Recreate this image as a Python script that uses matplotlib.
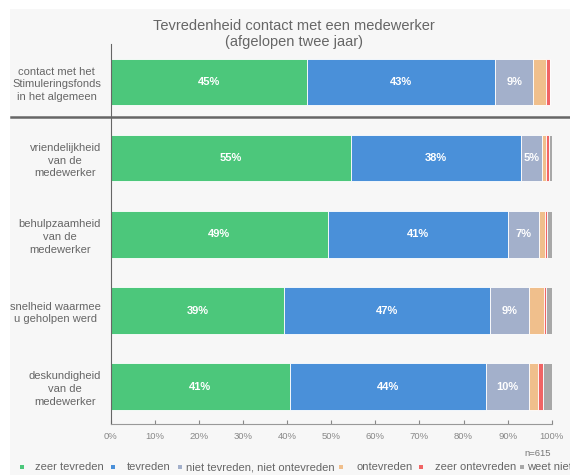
import numpy as np
import matplotlib
matplotlib.use('Agg')
import matplotlib.pyplot as plt
from matplotlib.patches import Rectangle

plt.rcParams['font.family'] = ['Liberation Sans', 'DejaVu Sans']

categories = ['contact met het\nStimuleringsfonds\nin het algemeen',
              'vriendelijkheid\nvan de\nmedewerker',
              'behulpzaamheid\nvan de\nmedewerker',
              'snelheid waarmee\nu geholpen werd',
              'deskundigheid\nvan de\nmedewerker']

series_names = ['zeer tevreden', 'tevreden', 'niet tevreden, niet ontevreden',
                'ontevreden', 'zeer ontevreden', 'weet niet']

zeer_tevreden = [44.6, 54.6, 49.3, 39.3, 40.6]
tevreden = [42.6, 38.4, 40.7, 46.7, 44.4]
neutraal = [8.6, 4.8, 7.1, 8.9, 9.9]
ontevreden = [3.0, 1.0, 1.3, 3.4, 2.0]
zeer_ontevreden = [0.9, 0.6, 0.6, 0.5, 1.2]
weet_niet = [0.0, 0.6, 1.0, 1.2, 1.9]

x_ticks = [0, 10, 20, 30, 40, 50, 60, 70, 80, 90, 100]
n_text = 'n=615'

colors = ['#4cc77b', '#4a90d9', '#a3b0cb', '#f0bf8c', '#f06464', '#a8a8a8']

fig = plt.figure(figsize=(5.7, 4.75), dpi=100, facecolor='white')
fig.add_artist(Rectangle((10 / 570, 0), 1, 466 / 475, transform=fig.transFigure,
                         facecolor='#f7f7f7', edgecolor='none', zorder=-10))

ax = fig.add_axes([110.7 / 570, 51 / 475, 441 / 570, 380 / 475])
ax.set_facecolor('none')

data = [zeer_tevreden, tevreden, neutraal, ontevreden, zeer_ontevreden, weet_niet]
y = np.arange(len(categories))
left = np.zeros(len(categories))
for vals, col in zip(data, colors):
    vals = np.array(vals)
    ax.barh(y, vals, left=left, height=0.61, color=col,
            edgecolor='white', linewidth=0.6)
    for yi, v, l in zip(y, vals, left):
        if v >= 4.5:
            ax.text(l + v / 2, yi, f'{int(round(v))}%', ha='center', va='center',
                    color='white', fontsize=8, fontweight='bold')
    left += vals

ax.set_xlim(0, 100)
ax.set_ylim(4.49, -0.5)
ax.set_yticks(y)
ax.set_yticklabels(categories, fontsize=8, color='#666666', multialignment='center')
for lab in ax.get_yticklabels():
    lab.set_linespacing(1.35)
ax.tick_params(axis='y', length=0, pad=7)
ax.set_xticks(x_ticks)
ax.set_xticklabels([f'{t}%' for t in x_ticks], fontsize=6.8, color='#888888')
ax.tick_params(axis='x', direction='in', length=3, color='#888888', pad=6)

ax.spines['top'].set_visible(False)
ax.spines['right'].set_visible(False)
ax.spines['left'].set_color('#666666')
ax.spines['bottom'].set_color('#999999')

# separator between the overall row and the detail rows
ax.axhline(0.46, xmin=-100 / 441, xmax=1.05, color='#666666', lw=1.8, clip_on=False)

fig.text(294 / 570, 1 - 34 / 475,
         'Tevredenheid contact met een medewerker\n(afgelopen twee jaar)',
         ha='center', va='center', fontsize=10.5, color='#666666', linespacing=1.25)

fig.text(551 / 570, 1 - 453 / 475, n_text, ha='right', va='center',
         fontsize=6.8, color='#777777')

# legend (last entry runs off the right edge, as in the original)
legend_x = [22, 113, 180, 341, 421, 522]
text_x = [35, 127, 186, 356, 435, 527]
ly = 1 - 467 / 475
for mx, tx, name, col in zip(legend_x, text_x, series_names, colors):
    fig.add_artist(Rectangle((mx / 570 - 0.003, ly - 0.004), 0.006, 0.008,
                             transform=fig.transFigure, facecolor=col, edgecolor='none'))
    fig.text(tx / 570, ly, name, ha='left', va='center', fontsize=8, color='#666666')

fig.savefig('out.png', dpi=100, facecolor=fig.get_facecolor())
